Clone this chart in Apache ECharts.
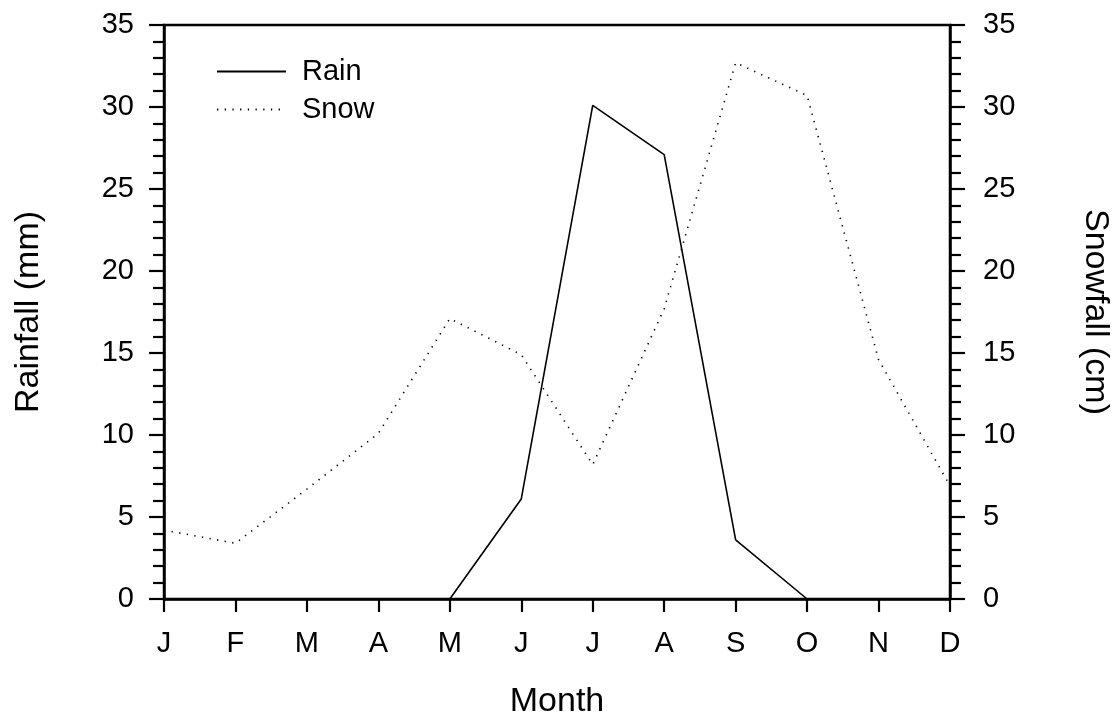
<!DOCTYPE html>
<html>
<head>
<meta charset="utf-8">
<script src="https://cdn.jsdelivr.net/npm/echarts@6/dist/echarts.min.js"></script>
<style>html,body{margin:0;padding:0;background:#fff}#c{width:1112px;height:723px}</style>
</head>
<body>
<div id="c"></div>
<script>
const months = ['J','F','M','A','M','J','J','A','S','O','N','D'];
const rain = [null, null, null, null, 0, 6.1, 30.1, 27.1, 3.6, 0, null, null];
const snow = [4.2, 3.4, 6.7, 10.1, 17.1, 14.9, 8.2, 17.7, 32.7, 30.7, 14.6, 6.9];
const yTicks = {min: 0, max: 35, interval: 5};

const FONT = '"Liberation Sans", Arial, sans-serif';
const chart = echarts.init(document.getElementById('c'), null, {renderer: 'canvas'});
const axisCommon = {
  axisLine: {show: true, onZero: false, lineStyle: {color: '#000', width: 2.5}},
  axisTick: {show: true, length: 15, lineStyle: {color: '#000', width: 2.2}},
  minorTick: {show: true, splitNumber: 5, length: 11, lineStyle: {color: '#000', width: 2.2}},
  splitLine: {show: false},
  axisLabel: {color: '#000', fontSize: 29, fontFamily: FONT, margin: 30},
  nameTextStyle: {color: '#000', fontSize: 34, fontFamily: FONT},
  nameLocation: 'middle'
};
chart.setOption({
  animation: false,
  backgroundColor: '#fff',
  grid: {left: 164, right: 162, top: 25, bottom: 124, outerBoundsMode: 'none', containLabel: false,
    show: true, borderColor: '#000', borderWidth: 2.5, backgroundColor: 'transparent'},
  legend: {
    orient: 'vertical', left: 211, top: 52,
    itemWidth: 69, itemHeight: 20, itemGap: 9,
    itemStyle: {opacity: 0, color: 'rgba(0,0,0,0)', borderWidth: 0},
    textStyle: {color: '#000', fontSize: 29, fontFamily: FONT, padding: [0, 0, 0, 11]},
    data: ['Rain', 'Snow']
  },
  xAxis: {
    type: 'category', data: months, boundaryGap: false,
    name: 'Month', nameLocation: 'middle', nameGap: 86,
    nameTextStyle: {color: '#000', fontSize: 34, fontFamily: FONT},
    axisLine: {show: true, lineStyle: {color: '#000', width: 2.5}},
    axisTick: {show: true, length: 13, alignWithLabel: true, lineStyle: {color: '#000', width: 2.2}},
    axisLabel: {color: '#000', fontSize: 29, fontFamily: FONT, margin: 30},
    splitLine: {show: false}
  },
  yAxis: [
    Object.assign({}, axisCommon, {type: 'value', position: 'left', min: yTicks.min, max: yTicks.max, interval: yTicks.interval,
      name: 'Rainfall (mm)', nameGap: 118}),
    Object.assign({}, axisCommon, {type: 'value', position: 'right', min: yTicks.min, max: yTicks.max, interval: yTicks.interval,
      name: 'Snowfall (cm)', nameGap: 128, nameRotate: -90,
      axisLabel: {color: '#000', fontSize: 29, fontFamily: FONT, margin: 33}})
  ],
  series: [
    {name: 'Rain', type: 'line', data: rain, yAxisIndex: 0, symbol: 'none', connectNulls: false,
      lineStyle: {color: '#000', width: 1.6, type: 'solid'}, itemStyle: {color: '#000'}},
    {name: 'Snow', type: 'line', data: snow, yAxisIndex: 1, symbol: 'none',
      lineStyle: {color: '#000', width: 1.6, type: [1.3, 6.4]}, itemStyle: {color: '#000'}}
  ]
});
</script>
</body>
</html>
